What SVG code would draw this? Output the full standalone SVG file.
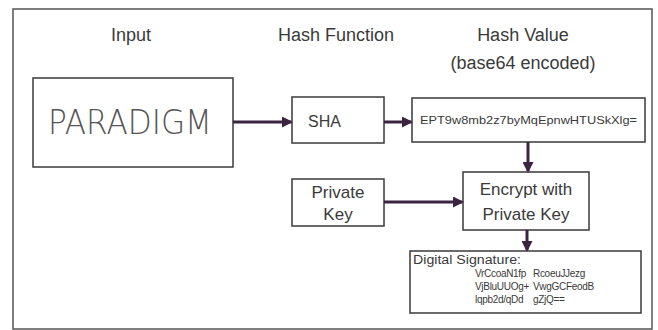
<svg xmlns="http://www.w3.org/2000/svg" width="658" height="330" viewBox="0 0 658 330">
<defs>
<style>
.box{fill:#fff;stroke:#3a3a3a;stroke-width:1.5}
.t{font-family:"Liberation Sans",Arial,sans-serif;fill:#3a3a3a}
.title{font-size:18px;text-anchor:middle}
.lbl{font-size:17px;text-anchor:middle}
.sig{font-size:10px;letter-spacing:-0.3px}
.conn{stroke:#3b2440;stroke-width:3;fill:none}
</style>
<marker id="ah" markerWidth="11" markerHeight="11" refX="9" refY="5.5" orient="auto" markerUnits="userSpaceOnUse" viewBox="0 0 11 11">
<path d="M0,0 L11,5.5 L0,11 z" fill="#3b2440"/>
</marker>
</defs>
<rect x="0" y="0" width="658" height="330" fill="#fff"/>
<rect x="13" y="9" width="639" height="320" fill="none" stroke="#555" stroke-width="1.5"/>
<g id="titles">
<text class="t title" x="131" y="41">Input</text>
<text class="t title" x="336" y="41">Hash Function</text>
<text class="t title" x="523" y="41">Hash Value</text>
<text class="t title" x="523" y="69">(base64 encoded)</text>
</g>
<g id="input">
<rect class="box" x="33" y="78" width="200" height="89"/>
<text x="130" y="134" text-anchor="middle" font-family="DejaVu Sans, sans-serif" font-weight="200" font-size="34" fill="#555" textLength="164" lengthAdjust="spacingAndGlyphs">PARADIGM</text>
</g>
<g id="sha">
<rect class="box" x="292" y="97" width="92" height="46"/>
<text class="t" x="308" y="127" font-size="16">SHA</text>
</g>
<g id="hash">
<rect class="box" x="412" y="98" width="233" height="44"/>
<text class="t" x="420" y="124" font-size="11" textLength="217" lengthAdjust="spacingAndGlyphs">EPT9w8mb2z7byMqEpnwHTUSkXlg=</text>
</g>
<g id="privkey">
<rect class="box" x="292" y="179" width="92" height="47"/>
<text class="t lbl" x="338" y="198">Private</text>
<text class="t lbl" x="338" y="220">Key</text>
</g>
<g id="encrypt">
<rect class="box" x="463" y="172" width="126" height="58"/>
<text class="t lbl" x="526" y="195">Encrypt with</text>
<text class="t lbl" x="526" y="220">Private Key</text>
</g>
<g id="signature">
<rect class="box" x="410" y="251" width="231" height="62"/>
<text class="t" font-size="12" x="413" y="264" textLength="108" lengthAdjust="spacingAndGlyphs">Digital Signature:</text>
<text class="t sig" x="475" y="277">VrCcoaN1fp</text>
<text class="t sig" x="533" y="277">RcoeuJJezg</text>
<text class="t sig" x="475" y="290">VjBluUUOg+</text>
<text class="t sig" x="533" y="290">VwgGCFeodB</text>
<text class="t sig" x="475" y="303">lqpb2d/qDd</text>
<text class="t sig" x="533" y="303">gZjQ==</text>
</g>
<g id="connectors">
<line class="conn" x1="233" y1="122" x2="291" y2="122" marker-end="url(#ah)"/>
<line class="conn" x1="384" y1="122" x2="411" y2="122" marker-end="url(#ah)"/>
<line class="conn" x1="528" y1="142" x2="528" y2="171" marker-end="url(#ah)"/>
<line class="conn" x1="384" y1="202" x2="462" y2="202" marker-end="url(#ah)"/>
<line class="conn" x1="527" y1="230" x2="527" y2="250" marker-end="url(#ah)"/>
</g>
</svg>
